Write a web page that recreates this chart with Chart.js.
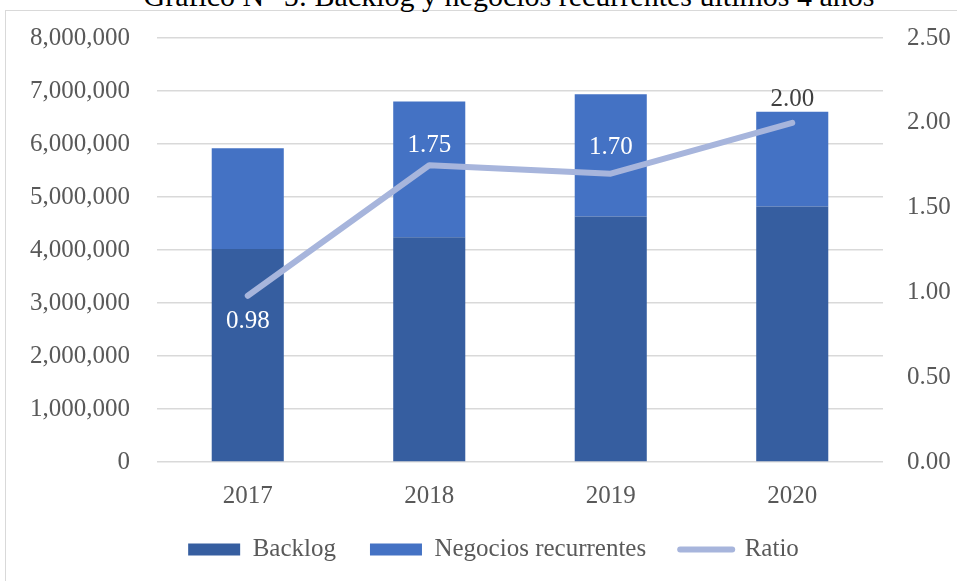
<!DOCTYPE html>
<html>
<head>
<meta charset="utf-8">
<script src="https://cdn.jsdelivr.net/npm/chart.js@4.4.1/dist/chart.umd.min.js"></script>
<style>
  html, body { margin: 0; padding: 0; background: #fff; }
  body { width: 957px; height: 581px; position: relative; overflow: hidden; }
  .frame { position: absolute; left: 5px; top: 10px; width: 1000px; height: 700px;
           border: 1.5px solid #d9d9d9; box-sizing: border-box; }
  .title { position: absolute; left: 0; width: 1018px; top: -19px; text-align: center;
           font: 30px "Liberation Serif", "Times New Roman", serif; line-height: 1; color: #000; }
  #wrap { position: absolute; left: 0; top: 0; }
</style>
</head>
<body>
<div class="frame"></div>
<div class="title">Gráfico N° 5: Backlog y negocios recurrentes últimos 4 años</div>
<div id="wrap"><canvas id="myChart" width="957" height="581"></canvas></div>
<script>
const years = ['2017', '2018', '2019', '2020'];
const backlog = [4020000, 4240000, 4630000, 4820000];
const negocios = [1900000, 2560000, 2310000, 1790000];
const ratio = [0.98, 1.75, 1.70, 2.00];

const ctx = document.getElementById('myChart');
const serif = '"Liberation Serif", "Times New Roman", serif';

// where each ratio label sits relative to its point, and its colour
const ratioLabelDy = [26, -20, -26, -23];
const ratioLabelColor = ['#ffffff', '#ffffff', '#ffffff', '#404040'];

const ratioLabels = {
  id: 'ratioLabels',
  afterDatasetsDraw(chart) {
    const meta = chart.getDatasetMeta(2);
    const c = chart.ctx;
    c.save();
    c.font = '25px ' + serif;
    c.textAlign = 'center';
    c.textBaseline = 'middle';
    meta.data.forEach((pt, i) => {
      c.fillStyle = ratioLabelColor[i];
      c.fillText(ratio[i].toFixed(2), pt.x, pt.y + ratioLabelDy[i]);
    });
    c.restore();
  }
};

new Chart(ctx, {
  type: 'bar',
  data: {
    labels: years,
    datasets: [
      { label: 'Backlog', data: backlog, backgroundColor: '#365ea0', yAxisID: 'y', stack: 'a', order: 1 },
      { label: 'Negocios recurrentes', data: negocios, backgroundColor: '#4472c4', yAxisID: 'y', stack: 'a', order: 1 },
      { type: 'line', label: 'Ratio', data: ratio, borderColor: '#a7b5dc', backgroundColor: '#a7b5dc',
        borderWidth: 6, pointRadius: 0, tension: 0, yAxisID: 'y1', order: 0,
        borderCapStyle: 'round', borderJoinStyle: 'round' }
    ]
  },
  options: {
    responsive: false,
    animation: false,
    layout: { padding: { left: 30, right: 0, top: 38, bottom: 9 } },
    datasets: { bar: { categoryPercentage: 1, barPercentage: 0.397 } },
    plugins: {
      tooltip: { enabled: false },
      title: { display: false },
      legend: {
        position: 'bottom',
        labels: {
          font: { family: serif, size: 25 },
          color: '#595959',
          usePointStyle: true,
          pointStyleWidth: 52,
          boxHeight: 12,
          padding: 34,
          sort: (a, b) => a.datasetIndex - b.datasetIndex,
          generateLabels: chart => Chart.defaults.plugins.legend.labels.generateLabels(chart).map(item => {
            if (item.datasetIndex === 2) {
              item.pointStyle = 'line';
              item.lineWidth = 6;
              item.lineCap = 'round';
              item.strokeStyle = '#a7b5dc';
            } else {
              item.pointStyle = 'rect';
              item.lineWidth = 0;
            }
            return item;
          })
        }
      }
    },
    scales: {
      x: {
        stacked: true,
        grid: { display: false },
        border: { display: false },
        ticks: { font: { family: serif, size: 25 }, color: '#595959', padding: 11 },
        afterFit: s => { s.height = 41; }
      },
      y: {
        stacked: true,
        position: 'left',
        min: 0, max: 8000000,
        ticks: { stepSize: 1000000, font: { family: serif, size: 25 }, color: '#595959', padding: 0,
                 callback: v => v.toLocaleString('en-US') },
        grid: { color: '#d9d9d9', lineWidth: 1.5, drawTicks: true, tickLength: 27, tickColor: 'rgba(0,0,0,0)' },
        border: { display: false },
        afterFit: s => { s.width = 127; }
      },
      y1: {
        position: 'right',
        min: 0, max: 2.5,
        ticks: { stepSize: 0.5, font: { family: serif, size: 25 }, color: '#595959', padding: 0,
                 callback: v => v.toFixed(2) },
        grid: { drawOnChartArea: false, drawTicks: true, tickLength: 24, tickColor: 'rgba(0,0,0,0)' },
        border: { display: false },
        afterFit: s => { s.width = 74; }
      }
    }
  },
  plugins: [ratioLabels]
});
</script>
</body>
</html>
